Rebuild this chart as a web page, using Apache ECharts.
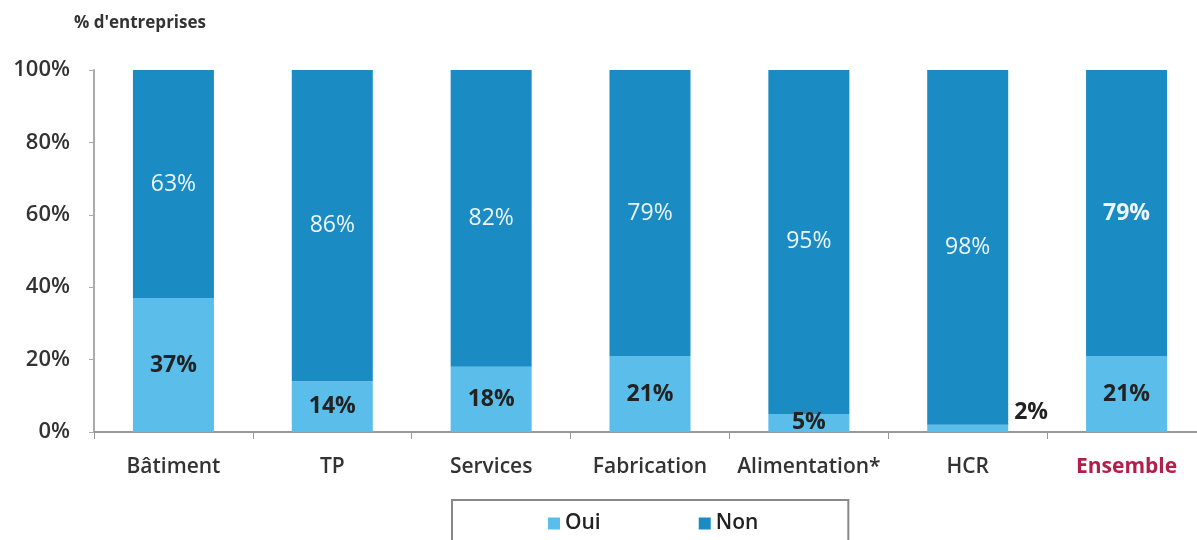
<!DOCTYPE html>
<html>
<head>
<meta charset="utf-8">
<script src="https://cdn.jsdelivr.net/npm/echarts@6/dist/echarts.min.js"></script>
<style>
  html, body { margin: 0; padding: 0; background: #fff; overflow: hidden; }
  #main { width: 1210px; height: 540px; }
</style>
</head>
<body>
<div id="main"></div>
<script>
var categories = ["Bâtiment", "TP", "Services", "Fabrication", "Alimentation*", "HCR", "Ensemble"];
var ouiValues = [37, 14, 18, 21, 5, 2, 21];
var nonValues = [63, 86, 82, 79, 95, 98, 79];
var yTicks = ["0%", "20%", "40%", "60%", "80%", "100%"];

var FONT = "'Open Sans', Lato, sans-serif";
var myChart = echarts.init(document.getElementById("main"));

// données Oui : étiquette spéciale pour HCR (à droite de la barre)
var ouiData = ouiValues.map(function (v, i) {
  var item = { value: v };
  if (categories[i] === "HCR") {
    item.label = { position: "right", offset: [0, -16], distance: 6 };
  }
  return item;
});
var nonData = nonValues.map(function (v, i) {
  var item = { value: v };
  if (categories[i] === "Ensemble") {
    item.label = { fontWeight: "bold" };
  }
  return item;
});

const option = {
  backgroundColor: "#fff",
  textStyle: { fontFamily: FONT },
  title: {
    text: "% d'entreprises",
    left: 69,
    top: 10,
    textStyle: { fontFamily: FONT, fontSize: 17, fontWeight: "bold", color: "#333" },
  },
  legend: {
    data: ["Oui", "Non"],
    left: 452,
    top: 500,
    icon: "rect",
    itemWidth: 12,
    itemHeight: 12,
    itemGap: 98,
    padding: [13, 90, 30, 96],
    borderColor: "#888",
    borderWidth: 2,
    textStyle: { fontFamily: FONT, fontSize: 21, color: "#222", fontWeight: 600 },
  },
  grid: {
    left: 94,
    top: 70,
    width: 1112,
    height: 362,
    containLabel: false,
  },
  xAxis: {
    type: "category",
    data: categories,
    axisLine: { lineStyle: { color: "#999", width: 2 } },
    axisTick: { show: true, length: 7, lineStyle: { color: "#999" } },
    axisLabel: {
      interval: 0,
      margin: 25,
      fontFamily: FONT,
      fontSize: 21,
      fontWeight: 600,
      color: "#333",
      formatter: function (v) {
        return v === "Ensemble" ? "{ens|" + v + "}" : v;
      },
      rich: {
        ens: { fontFamily: FONT, fontSize: 21, fontWeight: "bold", color: "#b0204a" },
      },
    },
  },
  yAxis: {
    type: "value",
    min: 0,
    max: 100,
    interval: 20,
    axisLine: { show: true, lineStyle: { color: "#aaa", width: 2 } },
    axisTick: { show: true, length: 5, lineStyle: { color: "#aaa" } },
    splitLine: { show: false },
    axisLabel: {
      margin: 24,
      fontFamily: FONT,
      fontSize: 22,
      fontWeight: 600,
      color: "#333",
      formatter: function (v) { return yTicks[v / 20]; },
    },
  },
  series: [
    {
      name: "Oui",
      type: "bar",
      stack: "total",
      barWidth: 81,
      itemStyle: { color: "#5bbde9" },
      label: {
        show: true,
        position: "inside",
        formatter: "{c}%",
        fontFamily: FONT,
        fontSize: 23,
        fontWeight: "bold",
        color: "#222",
      },
      data: ouiData,
    },
    {
      name: "Non",
      type: "bar",
      stack: "total",
      barWidth: 81,
      itemStyle: { color: "#1a8bc3" },
      label: {
        show: true,
        position: "inside",
        formatter: "{c}%",
        fontFamily: FONT,
        fontSize: 23,
        color: "#eef6fb",
      },
      data: nonData,
    },
  ],
};
myChart.setOption(option);
</script>
</body>
</html>
